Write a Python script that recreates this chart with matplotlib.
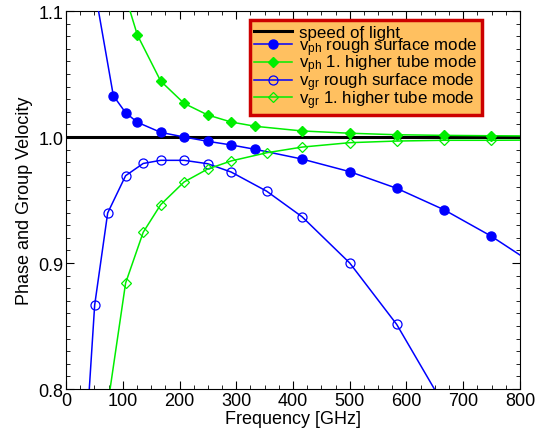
import matplotlib
matplotlib.use("Agg")
import matplotlib.pyplot as plt
from matplotlib.ticker import MultipleLocator

plt.rcParams['font.family'] = ['Liberation Sans', 'DejaVu Sans']
plt.rcParams['mathtext.fontset'] = 'custom'
plt.rcParams['mathtext.rm'] = 'Liberation Sans'
plt.rcParams['mathtext.it'] = 'Liberation Sans'

# phase velocity, rough surface mode
f_ph_rough = [41.7, 83.4, 105, 125.7, 166.8, 208, 249.6, 291, 333.6, 416, 500, 582.7, 666, 749, 833]
v_ph_rough = [1.14, 1.0328, 1.0193, 1.0117, 1.0037, 1.0000, 0.9966, 0.9937, 0.9902, 0.9825,
              0.9725, 0.9593, 0.9423, 0.9214, 0.8966]

# phase velocity, 1. higher tube mode
f_ph_tube = [104, 125.7, 166.8, 208, 249.6, 291, 333.6, 416, 500, 582.7, 666, 749, 833]
v_ph_tube = [1.113, 1.081, 1.0444, 1.0267, 1.0175, 1.0119, 1.0085, 1.0048, 1.003, 1.0018,
             1.0013, 1.001, 1.0008]

# group velocity, rough surface mode
f_gr_rough = [35, 50.5, 73.4, 105, 136, 166.8, 208, 249.6, 291, 353.6, 416, 500, 582.7, 666]
v_gr_rough = [0.758, 0.8667, 0.9397, 0.9693, 0.979, 0.9815, 0.9815, 0.9788, 0.9722, 0.957,
              0.9367, 0.900, 0.8513, 0.787]

# group velocity, 1. higher tube mode
f_gr_tube = [73.4, 105, 136, 166.8, 208, 249.6, 291, 353.6, 416, 500, 582.7, 666, 749, 833]
v_gr_tube = [0.787, 0.8841, 0.9244, 0.9463, 0.9643, 0.9746, 0.981, 0.9875, 0.992, 0.9955,
             0.9968, 0.9974, 0.9974, 0.9976]

fig = plt.figure(figsize=(5.47, 4.35), dpi=100)
ax = fig.add_axes([0.1207, 0.1034, 0.8299, 0.869])

ax.axhline(1.0, color='k', lw=2.2, label='speed of light', zorder=3)
ax.plot(f_ph_rough, v_ph_rough, '-o', color='#0000ff', lw=1.1, ms=6.5,
        label=r'v$_{\mathrm{ph}}$ rough surface mode', zorder=4)
ax.plot(f_ph_tube, v_ph_tube, '-D', color='#00ee00', lw=1.1, ms=5,
        label=r'v$_{\mathrm{ph}}$ 1. higher tube mode', zorder=4)
ax.plot(f_gr_rough, v_gr_rough, '-o', color='#0000ff', mfc='none', lw=1.1, ms=6.5, mew=0.9,
        label=r'v$_{\mathrm{gr}}$ rough surface mode', zorder=4)
ax.plot(f_gr_tube, v_gr_tube, '-D', color='#00ee00', mfc='none', lw=1.1, ms=5, mew=0.9,
        label=r'v$_{\mathrm{gr}}$ 1. higher tube mode', zorder=4)

ax.set_xlim(0, 800)
ax.set_ylim(0.8, 1.1)
ax.xaxis.set_major_locator(MultipleLocator(100))
ax.xaxis.set_minor_locator(MultipleLocator(25))
ax.yaxis.set_major_locator(MultipleLocator(0.1))
ax.yaxis.set_minor_locator(MultipleLocator(0.01))
ax.set_yticks([0.8, 0.9, 1.0, 1.1])
ax.set_yticklabels(['0.8', '0.9', '1.0', '1.1'])
ax.tick_params(which='both', direction='in', top=True, right=True, labelsize=13, pad=2)
ax.tick_params(which='major', length=6)
ax.tick_params(which='minor', length=3)

ax.set_xlabel('Frequency [GHz]', fontsize=13, labelpad=1)
ax.set_ylabel('Phase and Group Velocity', fontsize=13, labelpad=4)

# tight legend: rows sit almost on top of each other
leg = ax.legend(loc='upper right', bbox_to_anchor=(0.916, 0.975), borderaxespad=0,
                fontsize=12.2, handlelength=2.2, handletextpad=0.45,
                labelspacing=-0.28, borderpad=0.25, fancybox=False, framealpha=1)
leg.get_frame().set_facecolor('#ffc060')
leg.get_frame().set_edgecolor('#cc0000')
leg.get_frame().set_linewidth(2.5)

fig.savefig('out.png', dpi=100)
